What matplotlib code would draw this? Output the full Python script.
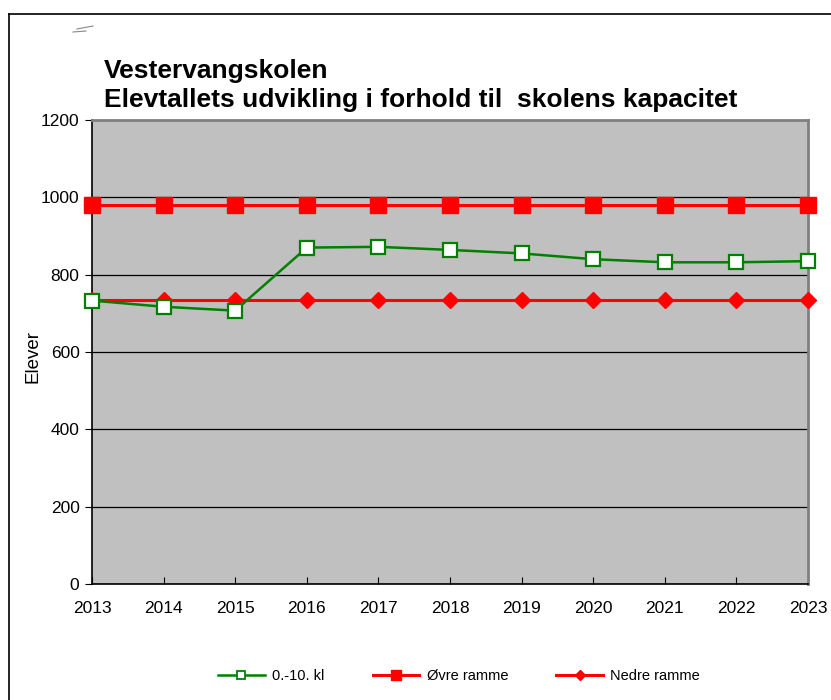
import matplotlib.pyplot as plt
from matplotlib.lines import Line2D

plt.rcParams['font.family'] = ['Liberation Sans', 'DejaVu Sans']

# data
years = [2013, 2014, 2015, 2016, 2017, 2018, 2019, 2020, 2021, 2022, 2023]
elever = [733, 717, 707, 870, 872, 864, 855, 840, 832, 832, 835]
ovre = [980] * 11
nedre = [734] * 11
labels = ['0.-10. kl', 'Øvre ramme', 'Nedre ramme']

W, H = 831, 700
fig = plt.figure(figsize=(W / 100, H / 100), dpi=100)

# outer chart frame (only left and top visible)
fig.add_artist(Line2D([9 / W, 9 / W], [0, 1 - 14 / H], color='black', lw=1.2))
fig.add_artist(Line2D([9 / W, 1], [1 - 14 / H, 1 - 14 / H], color='black', lw=1.2))
# small stray mark top left
fig.add_artist(Line2D([73 / W, 86 / W], [1 - 32 / H, 1 - 31 / H], color='#888888', lw=0.8))
fig.add_artist(Line2D([77 / W, 93 / W], [1 - 29 / H, 1 - 26 / H], color='#888888', lw=0.8))

ax = fig.add_axes([92 / W, 1 - 584 / H, (808 - 92) / W, (584 - 120) / H])
ax.set_facecolor('#C0C0C0')

ax.plot(years, ovre, color='#FF0000', lw=2.2, marker='s', ms=11.5,
        mec='#FF0000', mfc='#FF0000', clip_on=False, zorder=3)
ax.plot(years, nedre, color='#FF0000', lw=2.2, marker='D', ms=8.5,
        mec='#FF0000', mfc='#FF0000', clip_on=False, zorder=4)
ax.plot(years, elever, color='#008000', lw=1.8, marker='s', ms=10,
        mec='#008000', mfc='white', mew=1.6, clip_on=False, zorder=5)

ax.set_xlim(2013, 2023)
ax.set_ylim(0, 1200)
ax.set_xticks(years)
ax.set_yticks(range(0, 1201, 200))
ax.yaxis.grid(True, color='black', lw=0.9)
ax.set_axisbelow(True)

for s in ['top', 'right']:
    ax.spines[s].set_color('#808080')
    ax.spines[s].set_linewidth(2)
for s in ['left', 'bottom']:
    ax.spines[s].set_color('black')
    ax.spines[s].set_linewidth(1.2)

ax.tick_params(axis='x', direction='in', length=5, pad=12, labelsize=12.5)
ax.tick_params(axis='y', direction='out', length=5, pad=4, labelsize=12.5)
ax.set_ylabel('Elever', fontsize=13.5)
ax.yaxis.set_label_coords(-0.0712, 0.491)

fig.text(104 / W, 1 - 78 / H, 'Vestervangskolen', fontsize=19,
         fontweight='bold', va='baseline', ha='left')
fig.text(104 / W, 1 - 107 / H, 'Elevtallets udvikling i forhold til  skolens kapacitet',
         fontsize=19, fontweight='bold', va='baseline', ha='left')

handles = [
    Line2D([], [], color='#008000', lw=1.8, marker='s', ms=5.5, mfc='white', mec='#008000', mew=1.3),
    Line2D([], [], color='#FF0000', lw=2.2, marker='s', ms=6.5, mfc='#FF0000', mec='#FF0000'),
    Line2D([], [], color='#FF0000', lw=2.2, marker='D', ms=5, mfc='#FF0000', mec='#FF0000'),
]
fig.legend(handles, labels, loc='center', bbox_to_anchor=(459 / W, 1 - 676 / H), ncol=3,
           frameon=False, fontsize=10.5, handlelength=3.2, handletextpad=0.5,
           columnspacing=3.3)

fig.savefig('out.png', dpi=100)
